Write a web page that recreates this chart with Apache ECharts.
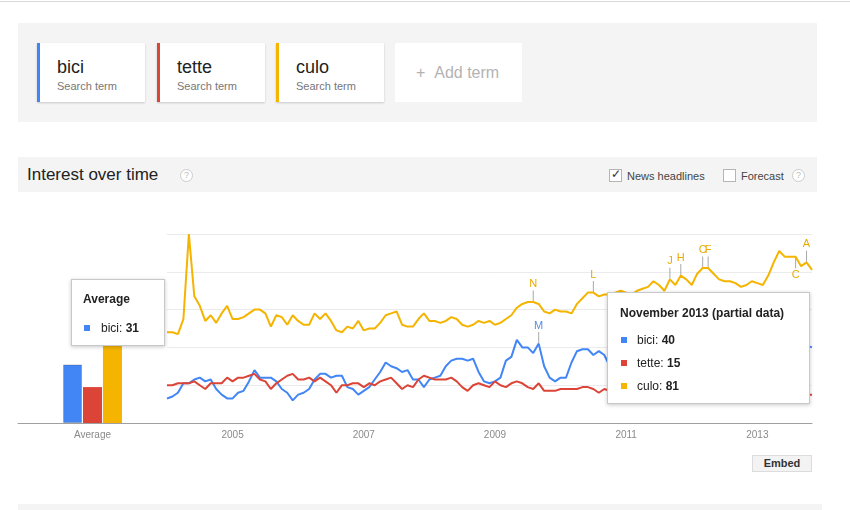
<!DOCTYPE html>
<html><head><meta charset="utf-8">
<script src="https://cdn.jsdelivr.net/npm/echarts@6/dist/echarts.min.js"></script>
<style>
html,body{margin:0;padding:0;background:#fff;}
body{width:850px;height:510px;position:relative;overflow:hidden;font-family:"Liberation Sans",Arial,sans-serif;}
.abs{position:absolute;}
.topline{left:0;top:1px;width:850px;height:1px;background:#d9d9d9;}
.panel{background:#f4f4f4;}
.card{top:43px;height:59px;background:#fff;box-shadow:0 1px 2px rgba(0,0,0,0.18);box-sizing:border-box;}
.card .t{position:absolute;left:17px;top:13px;font-size:18px;line-height:22px;color:#222;}
.card .s{position:absolute;left:17px;top:37px;font-size:11px;line-height:12px;color:#777;}
.q{width:11px;height:11px;border:1px solid #ccc;border-radius:50%;font-size:9px;line-height:11px;text-align:center;color:#bbb;background:#fff;}
.cb{width:11px;height:11px;border:1px solid #b5b5b5;background:#fff;}
.lbl{font-size:11px;line-height:12px;color:#444;}
.tip{background:#fff;border:1px solid #c8c8c8;box-shadow:0 1px 4px rgba(0,0,0,0.22);box-sizing:border-box;z-index:5;}
.tip .h{position:absolute;font-size:12px;font-weight:bold;color:#222;line-height:14px;white-space:nowrap;}
.tip .r{position:absolute;font-size:12px;color:#222;line-height:14px;white-space:nowrap;}
.tip .r b{font-weight:bold;}
.tip .sq{position:absolute;width:6px;height:6px;}
#chart{position:absolute;left:0;top:0;width:850px;height:510px;z-index:2;}
</style></head>
<body>
<div class="abs topline"></div>
<div class="abs panel" style="left:18px;top:23px;width:799px;height:99px;"></div>
<div class="abs card" id="card0" style="left:37px;width:108px;border-left:3px solid #4285f4;"><div class="t"></div><div class="s">Search term</div></div>
<div class="abs card" id="card1" style="left:157px;width:108px;border-left:3px solid #db4437;"><div class="t"></div><div class="s">Search term</div></div>
<div class="abs card" id="card2" style="left:276px;width:108px;border-left:3px solid #f4b400;"><div class="t"></div><div class="s">Search term</div></div>
<div class="abs" style="left:395px;top:43px;width:127px;height:59px;background:#fff;"><div style="position:absolute;left:21px;top:20px;font-size:16px;line-height:20px;color:#b3b3b3;white-space:nowrap;">+&nbsp;&nbsp;Add term</div></div>

<div class="abs panel" style="left:18px;top:157px;width:799px;height:35px;"></div>
<div class="abs" style="left:27px;top:164px;font-size:17px;line-height:22px;color:#222;white-space:nowrap;">Interest over time</div>
<div class="abs q" style="left:180px;top:169px;">?</div>
<div class="abs cb" style="left:609px;top:169px;"><div style="position:absolute;left:1px;top:-3px;font-size:12px;line-height:14px;color:#333;">&#10003;</div></div>
<div class="abs lbl" style="left:627px;top:170px;">News headlines</div>
<div class="abs cb" style="left:723px;top:169px;"></div>
<div class="abs lbl" style="left:741px;top:170px;">Forecast</div>
<div class="abs q" style="left:792px;top:169px;">?</div>

<div class="abs" style="left:752px;top:455px;width:60px;height:17px;background:#f3f3f3;border:1px solid #dcdcdc;box-sizing:border-box;font-size:11px;font-weight:bold;line-height:15px;text-align:center;color:#333;">Embed</div>
<div class="abs panel" style="left:18px;top:504px;width:804px;height:6px;"></div>

<div id="chart"></div>

<div class="abs tip" id="tipAvg" style="left:71px;top:279px;width:94px;height:67px;"></div>
<div class="abs tip" id="tipNov" style="left:607px;top:292px;width:203px;height:112px;"></div>

<script>
// ---- data ----
const terms = ['bici', 'tette', 'culo'];
const startYear = 2004;
const monthNames = ['January','February','March','April','May','June','July','August','September','October','November','December'];
// monthly interest, Jan 2004 .. Nov 2013 (rows = years)
const bici = [
  13,14,16,21,21,23,24,22,23,18,15,13,
  13,16,17,22,28,24,24,24,22,18,16,12,
  15,16,18,23,26,26,24,25,25,19,18,15,
  17,19,23,27,32,30,29,27,28,23,23,19,
  23,24,25,30,33,34,34,33,34,27,22,21,
  22,24,33,35,44,40,40,37,42,30,24,22,
  24,24,32,38,39,39,36,38,36,30,27,26,
  27,28,33,37,40,39,40,36,37,32,29,28,
  29,30,36,39,43,42,41,38,39,34,31,30,
  32,33,38,42,45,44,43,40,42,41,40
];
const tette = [
  20,20,21,21,21,22,20,18,21,21,21,24,
  22,24,24,25,26,23,22,18,21,23,25,26,
  23,23,24,22,24,22,20,16,20,20,21,21,
  19,21,20,22,23,24,21,18,20,19,23,25,
  24,23,23,23,24,22,19,17,20,21,20,19,
  22,20,19,21,22,21,19,18,21,17,17,17,
  18,18,18,18,19,19,18,16,18,17,17,18,
  17,16,17,17,16,17,18,16,17,16,16,17,
  16,16,17,16,15,16,17,16,15,16,16,15,
  15,16,15,16,15,14,15,16,15,15,15
];
const culo = [
  48,48,47,55,100,67,62,54,57,53,58,62,
  55,55,56,58,60,60,58,51,57,56,52,57,
  54,52,52,58,55,58,54,49,48,51,50,54,
  49,50,50,53,57,58,59,52,51,51,55,58,
  54,54,53,54,56,55,52,51,52,54,53,54,
  52,53,55,57,61,63,64,64,63,59,58,60,
  59,59,58,63,66,69,69,67,68,68,69,70,
  69,68,70,71,72,75,73,70,76,73,78,76,
  73,79,82,82,79,76,75,75,74,72,73,75,
  74,73,78,85,91,88,88,88,83,85,81
];
const averages = [31, 19, 62];
const yearLabels = ['2005', '2007', '2009', '2011', '2013'];
const newsLetters = ['N', 'M', 'L', 'J', 'H', 'C', 'F', 'C', 'A'];
const newsTerm    = ['culo', 'bici', 'culo', 'culo', 'culo', 'culo', 'culo', 'culo', 'culo'];
const newsIndex   = [67, 68, 78, 92, 94, 98, 99, 115, 117];
const newsBelow   = [false, false, false, false, false, false, false, true, false];

// ---- build ----
const seriesData = { bici: bici, tette: tette, culo: culo };
const colors = ['#4285f4', '#db4437', '#f4b400'];
const months = bici.map((_, i) => (startYear + Math.floor(i / 12)) + '-' + String(i % 12 + 1).padStart(2, '0'));
const last = months.length - 1;

terms.forEach((t, k) => { document.querySelector('#card' + k + ' .t').textContent = t; });

function markPointsFor(term, color) {
  const data = [];
  newsLetters.forEach((L, j) => {
    if (newsTerm[j] !== term) return;
    const i = newsIndex[j];
    const below = newsBelow[j];
    data.push({
      name: L,
      coord: [i, seriesData[term][i]],
      symbolOffset: [0, below ? 6 : -6],
      label: { position: below ? 'bottom' : 'top', distance: 1 }
    });
  });
  return {
    symbol: 'rect', symbolSize: [1, 11], silent: true,
    itemStyle: { color: '#a8a8a8' },
    label: { show: true, formatter: '{b}', color: color, fontSize: 11, fontFamily: 'Liberation Sans, Arial' },
    data: data
  };
}

const lineSeries = terms.map((t, k) => ({
  type: 'line', name: t, xAxisIndex: 1, yAxisIndex: 1,
  data: seriesData[t].map((v, i) => i === last ? { value: v, symbol: 'circle', symbolSize: 8 } : v),
  symbol: 'none', showSymbol: true,
  lineStyle: { width: 2, color: colors[k] }, itemStyle: { color: colors[k] },
  z: 3 + k, silent: true,
  markPoint: markPointsFor(t, k === 0 ? '#5a8fe0' : '#e8aa00')
}));

const barSeries = terms.map((t, k) => ({
  type: 'bar', name: t + ' avg', xAxisIndex: 0, yAxisIndex: 0,
  data: [averages[k]], barWidth: 19, barGap: '5%', silent: true,
  itemStyle: k === 0 ? { color: colors[k], borderColor: 'rgba(0,0,0,0.18)', borderWidth: 1 } : { color: colors[k] }
}));

const axisLbl = { color: '#8a8a8a', fontSize: 10, fontFamily: 'Liberation Sans, Arial', margin: 7 };
const chart = echarts.init(document.getElementById('chart'), null, { renderer: 'canvas' });
chart.setOption({
  animation: false,
  backgroundColor: 'transparent',
  grid: [
    { left: 18, top: 234, width: 149, height: 189 },
    { left: 167, top: 234, width: 645, height: 189 }
  ],
  xAxis: [
    { type: 'category', gridIndex: 0, data: ['Average'], boundaryGap: true,
      axisLine: { lineStyle: { color: '#a0a0a0' } }, axisTick: { show: false }, axisLabel: axisLbl },
    { type: 'category', gridIndex: 1, data: months, boundaryGap: false,
      axisLine: { lineStyle: { color: '#a0a0a0' } }, axisTick: { show: false },
      axisLabel: Object.assign({}, axisLbl, {
        interval: (idx, val) => val.endsWith('-01') && yearLabels.includes(val.slice(0, 4)),
        formatter: (val) => val.slice(0, 4)
      }) }
  ],
  yAxis: [
    { type: 'value', gridIndex: 0, min: 0, max: 100, interval: 20, show: false },
    { type: 'value', gridIndex: 1, min: 0, max: 100, interval: 20,
      axisLine: { show: false }, axisTick: { show: false }, axisLabel: { show: false },
      splitLine: { lineStyle: { color: '#ebebeb' } } }
  ],
  series: barSeries.concat(lineSeries)
});

// hover tooltips (static)
const tipAvg = document.getElementById('tipAvg');
tipAvg.innerHTML = '<div class="h" style="left:11px;top:12px;">Average</div>' +
  '<div class="sq" style="left:12px;top:45px;background:' + colors[0] + '"></div>' +
  '<div class="r" style="left:29px;top:41px;">' + terms[0] + ': <b>' + averages[0] + '</b></div>';

const tipNov = document.getElementById('tipNov');
const lastYear = startYear + Math.floor(last / 12);
let html = '<div class="h" style="left:12px;top:13px;">' + monthNames[last % 12] + ' ' + lastYear + ' (partial data)</div>';
terms.forEach((t, k) => {
  const y = 40 + k * 23;
  html += '<div class="sq" style="left:13px;top:' + (y + 4) + 'px;background:' + colors[k] + '"></div>' +
          '<div class="r" style="left:29px;top:' + y + 'px;">' + t + ': <b>' + seriesData[t][last] + '</b></div>';
});
tipNov.innerHTML = html;
</script>
</body></html>
